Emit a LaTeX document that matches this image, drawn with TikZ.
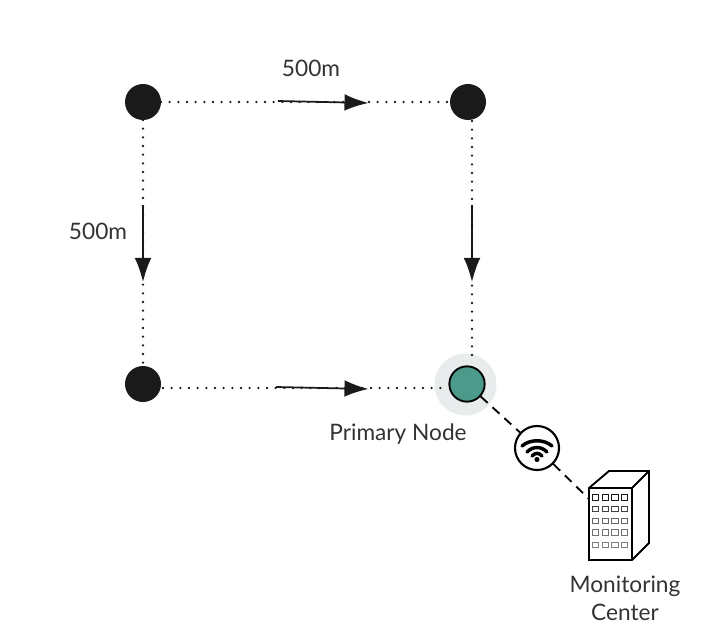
\documentclass[tikz,border=0pt]{standalone}
\usepackage{fontspec}
\setmainfont{Lato}
\usetikzlibrary{arrows.meta,calc}
\definecolor{ink}{HTML}{1A1A1A}
\definecolor{txt}{HTML}{333333}
\definecolor{teal1}{HTML}{4C9A8A}
\definecolor{halo}{HTML}{E8ECEC}
\tikzset{
  x=0.75pt,y=-0.75pt,
  blacknode/.style={circle,fill=ink,draw=none,minimum size=27pt,inner sep=0pt},
  greennode/.style={circle,fill=teal1,draw=black,line width=1.4pt,minimum size=26.5pt,inner sep=0pt},
  halonode/.style={circle,fill=halo,draw=none,minimum size=46.5pt,inner sep=0pt},
  wifinode/.style={circle,fill=white,draw=black,line width=1.6pt,minimum size=33pt,inner sep=0pt},
  label/.style={text=txt,font=\fontsize{17}{21}\selectfont,align=center,inner sep=0pt},
  dotline/.style={draw=ink,line width=1.9pt,line cap=round,dash pattern=on 0pt off 6.5pt},
  arrowline/.style={draw=ink,line width=1.3pt,-{Latex[length=18pt,width=12.5pt,inset=0pt]}},
  dashline/.style={draw=black,line width=1.4pt,dash pattern=on 7pt off 5pt},
  bldg/.style={draw=black,line width=1.4pt,fill=white,line join=miter},
  win/.style={draw=#1,line width=0.85pt,fill=white},
  wifiarc/.style={draw=black,line width=2.6pt,line cap=round},
}
\begin{document}
\begin{tikzpicture}
\useasboundingbox (0,0) rectangle (716,634);
% halo
\node[halonode] (halo) at (465.5,384.5) {};
% named ends of the dotted lines
\coordinate (ab1) at (161,102);
\coordinate (ab2) at (450,102);
\coordinate (ac1) at (143,120);
\coordinate (ac2) at (143,366);
\coordinate (bd1) at (472,121);
\coordinate (bd2) at (472,363);
\coordinate (cd1) at (163,388);
\coordinate (cd2) at (449,388);
\draw[dotline] (ab1) -- (ab2);
\draw[dotline] (ac1) -- (ac2);
\draw[dotline] (bd1) -- (bd2);
\draw[dotline] (cd1) -- (cd2);
% nodes
\node[blacknode] (a) at (143,102) {};
\node[blacknode] (b) at (468,102) {};
\node[blacknode] (c) at (143,384) {};
\node[greennode] (d) at (467,384) {};
% arrows
\coordinate (t1s) at (278,101);
\coordinate (t1e) at (368.5,103);
\coordinate (l1s) at (143,205);
\coordinate (l1e) at (143,282);
\coordinate (r1s) at (472,205);
\coordinate (r1e) at (472,282);
\coordinate (b1s) at (276,387);
\coordinate (b1e) at (368.5,389);
\draw[arrowline] (t1s) -- (t1e);
\draw[arrowline] (l1s) -- (l1e);
\draw[arrowline] (r1s) -- (r1e);
\draw[arrowline] (b1s) -- (b1e);
% building
\coordinate (f1) at (589,488);
\coordinate (f2) at (632,488);
\coordinate (f3) at (632,560);
\coordinate (f4) at (589,560);
\coordinate (k1) at (609,471);
\coordinate (k2) at (649,471);
\coordinate (k3) at (649,543);
\coordinate (dashend) at (589,499);
\node[wifinode] (wifi) at (537,448) {};
\draw[dashline] (d) -- (wifi);
\draw[dashline] (wifi) -- (dashend);
\draw[bldg] (f1) -- (k1) -- (k2) -- (k3) -- (f3) -- (f4) -- cycle;
\draw[bldg] (f1) -- (f2) -- (f3);
\draw[bldg] (f2) -- (k2);
\foreach \y/\c in {497.3/black!90,509/black!75,521/black!60,532.7/black!55,545/black!50}
  \foreach \x in {595.3,605.3,615,624.3}
    \draw[win=\c] (\x-3.2,\y-2.9) rectangle (\x+3.2,\y+2.9);
% wifi icon
\fill[black] (537,459.5) circle (1.9pt);
\draw[wifiarc] (522,446) .. controls (530,439) and (544,439) .. (552,446);
\draw[wifiarc] (527,452) .. controls (533,446) and (541,446) .. (547,452);
\draw[wifiarc] (532,456) .. controls (535,452.5) and (539,452.5) .. (542,456);
% labels
\node[label] (l1) at (311,68) {500m};
\node[label] (l2) at (98,231) {500m};
\node[label] (l3) at (398,434.5) {Primary Node};
\node[label] (l4) at (625,598) {Monitoring\\Center};
\end{tikzpicture}
\end{document}
